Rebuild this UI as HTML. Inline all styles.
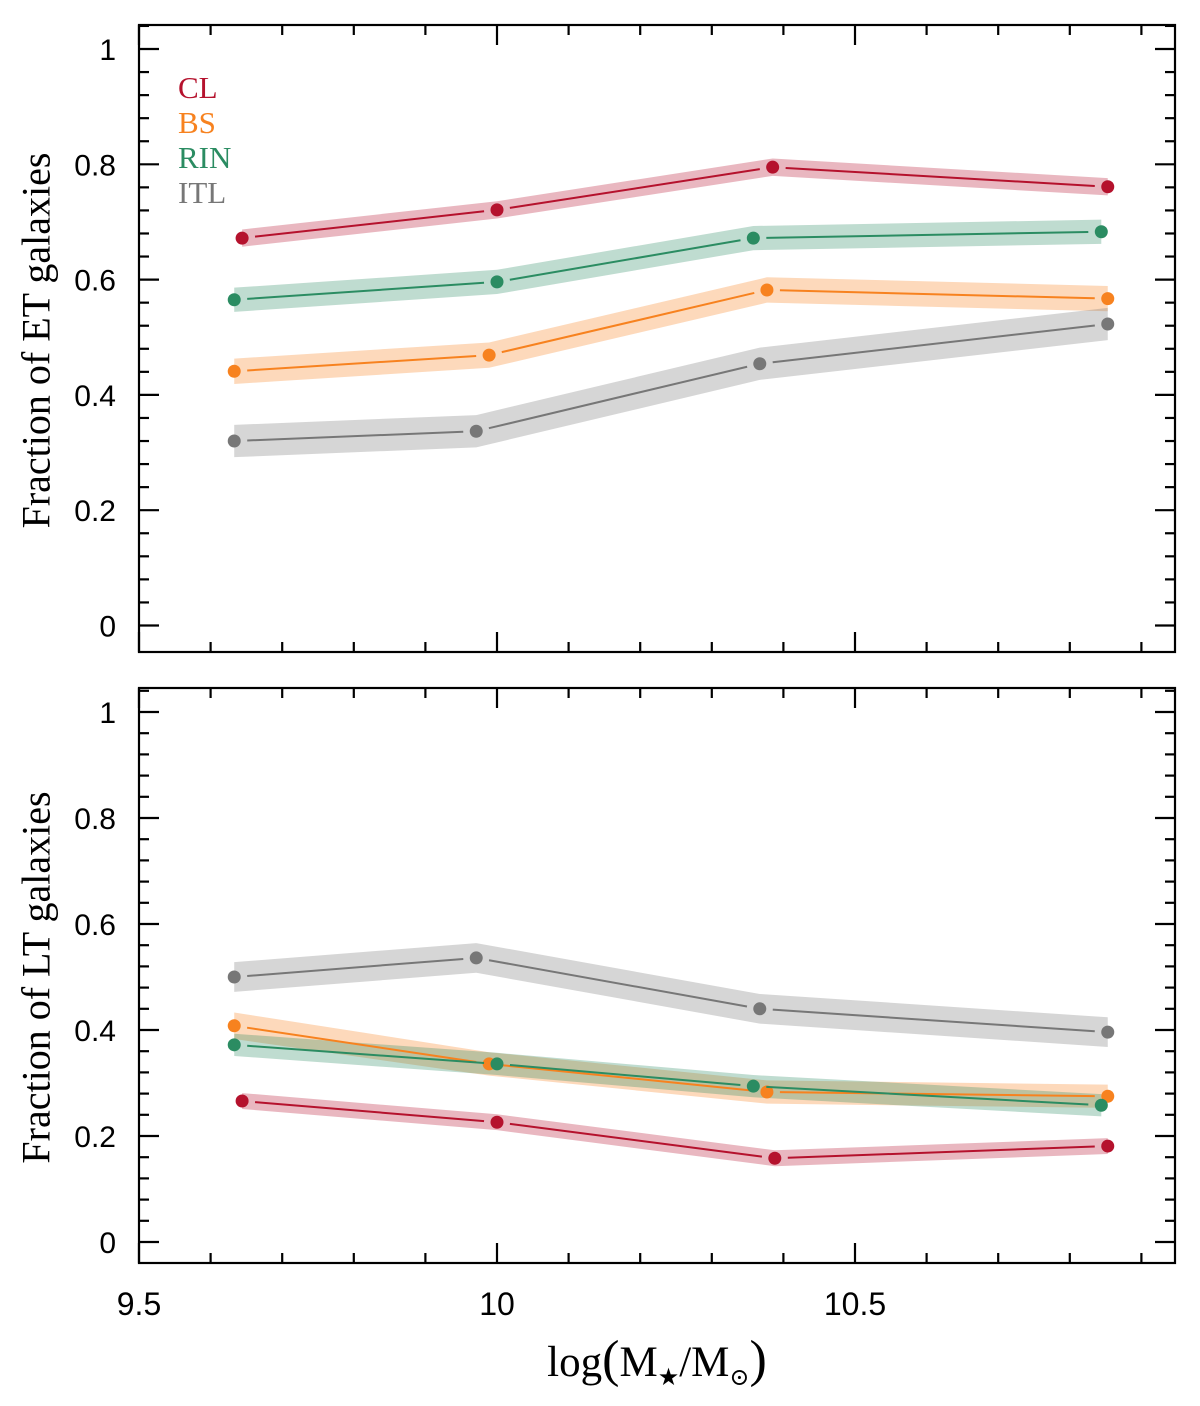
<!DOCTYPE html>
<html><head><meta charset="utf-8"><style>
body{margin:0;background:#fff;}
svg{display:block;}
</style></head><body>
<svg id="chart" width="1200" height="1406" xmlns="http://www.w3.org/2000/svg"></svg>
<script>
const seriesNames = ["CL","BS","RIN","ITL"];
const colors = {CL:"#b5122d",BS:"#f7821f",RIN:"#2b8c62",ITL:"#777777"};
const etX = {CL:[9.644,10.0,10.385,10.853],BS:[9.633,9.989,10.377,10.853],RIN:[9.633,10.0,10.358,10.844],ITL:[9.633,9.971,10.367,10.853]};
const etY = {CL:[0.672,0.721,0.795,0.761],BS:[0.441,0.469,0.582,0.567],RIN:[0.565,0.596,0.672,0.683],ITL:[0.320,0.337,0.454,0.523]};
const etErr = {CL:[0.015,0.015,0.015,0.015],BS:[0.022,0.022,0.022,0.022],RIN:[0.021,0.021,0.021,0.021],ITL:[0.028,0.028,0.028,0.028]};
const ltX = {CL:[9.644,10.0,10.388,10.853],BS:[9.633,9.989,10.377,10.853],RIN:[9.633,10.0,10.358,10.844],ITL:[9.633,9.971,10.367,10.853]};
const ltY = {CL:[0.266,0.226,0.158,0.181],BS:[0.408,0.336,0.283,0.275],RIN:[0.372,0.336,0.294,0.258],ITL:[0.500,0.536,0.440,0.396]};
const ltErr = {CL:[0.015,0.015,0.015,0.015],BS:[0.025,0.022,0.022,0.022],RIN:[0.021,0.021,0.021,0.021],ITL:[0.028,0.028,0.028,0.028]};
const xTickLabels = ["9.5","10","10.5"];
const xTickValues = [9.5,10,10.5];
const yTickLabels = ["0","0.2","0.4","0.6","0.8","1"];
const yTickValues = [0,0.2,0.4,0.6,0.8,1];

const NS="http://www.w3.org/2000/svg";
const svg=document.getElementById('chart');
function mk(tag,attrs,parent){const e=document.createElementNS(NS,tag);for(const k in attrs)e.setAttribute(k,attrs[k]);(parent||svg).appendChild(e);return e;}
const X0=139,X1=1175;
function xs(v){return X0+(v-9.5)*716;}

function panel(name,top,bottom,y0px,y1px,xv,yv,ev,ylabel,showX,legend){
  const g=mk('g',{});
  
  
  const ys=v=>y0px+(y1px-y0px)*v;
  seriesNames.forEach(s=>{
    const xsA=xv[s],ysA=yv[s],es=ev[s];
    let pts=[];
    for(let i=0;i<xsA.length;i++)pts.push(xs(xsA[i])+','+ys(ysA[i]+es[i]));
    for(let i=xsA.length-1;i>=0;i--)pts.push(xs(xsA[i])+','+ys(ysA[i]-es[i]));
    const p=mk('polygon',{points:pts.join(' '),fill:colors[s],'fill-opacity':0.3},g);
    
    
  });
  seriesNames.forEach(s=>{
    const xsA=xv[s],ysA=yv[s];
    for(let i=0;i<xsA.length-1;i++){
      const ax=xs(xsA[i]),ay=ys(ysA[i]),bx=xs(xsA[i+1]),by=ys(ysA[i+1]);
      const d=Math.hypot(bx-ax,by-ay),gap=13;
      const ux=(bx-ax)/d,uy=(by-ay)/d;
      const l=mk('line',{x1:ax+ux*gap,y1:ay+uy*gap,x2:bx-ux*gap,y2:by-uy*gap,stroke:colors[s],'stroke-width':2},g);
      
      
    }
    for(let i=0;i<xsA.length;i++){
      const c=mk('circle',{cx:xs(xsA[i]),cy:ys(ysA[i]),r:6.5,fill:colors[s]},g);
      
      
    }
  });
  const f=mk('rect',{x:X0,y:top,width:X1-X0,height:bottom-top,fill:'none',stroke:'#000','stroke-width':2.2},g);
  
  
  for(let k=0;k<=14;k++){
    const v=9.5+k*0.1; const x=xs(v); if(x>X1)break;
    const major=(k%5===0); const L=major?20:10;
    mk('line',{x1:x,y1:bottom,x2:x,y2:bottom-L,stroke:'#000','stroke-width':2.2},g);
    mk('line',{x1:x,y1:top,x2:x,y2:top+L,stroke:'#000','stroke-width':2.2},g);
  }
  for(let k=0;k<=26;k++){
    const v=k*0.04; const y=ys(v); if(y<top)break;
    const major=(k%5===0); const L=major?20:10;
    mk('line',{x1:X0,y1:y,x2:X0+L,y2:y,stroke:'#000','stroke-width':2.2},g);
    mk('line',{x1:X1,y1:y,x2:X1-L,y2:y,stroke:'#000','stroke-width':2.2},g);
  }
  yTickValues.forEach((v,i)=>{
    const t=mk('text',{x:116,y:ys(v)+11,'text-anchor':'end','font-family':'Liberation Sans, sans-serif','font-size':30},g);
    t.textContent=yTickLabels[i];
    
    
  });
  if(showX){
    xTickValues.forEach((v,i)=>{
      const t=mk('text',{x:xs(v),y:bottom+52,'text-anchor':'middle','font-family':'Liberation Sans, sans-serif','font-size':32},g);
      t.textContent=xTickLabels[i];
      
      
    });
  }
  const yl=mk('text',{x:0,y:0,transform:'translate(46,'+((top+bottom)/2+2)+') rotate(-90)','text-anchor':'middle','font-family':'Liberation Serif, serif','font-size':40},g);
  yl.setAttribute('transform','translate(36,'+((top+bottom)/2+2)+') rotate(-90)');
  yl.setAttribute('dominant-baseline','central');
  yl.textContent=ylabel;
  
  
  if(legend){
    seriesNames.forEach((s,i)=>{
      const t=mk('text',{x:178,y:98+i*35,'font-family':'Liberation Serif, serif','font-size':31,fill:colors[s]},g);
      t.textContent=s;
      
      
    });
  }
}
panel('top-panel',25,652,625.5,49,etX,etY,etErr,'Fraction of ET galaxies',false,true);
panel('bottom-panel',688,1263,1242,712,ltX,ltY,ltErr,'Fraction of LT galaxies',true,false);
const xt=mk('text',{x:657,y:1376,'text-anchor':'middle','font-family':'Liberation Serif, "DejaVu Serif", serif','font-size':43});
xt.innerHTML='log<tspan font-size="52">(</tspan>M<tspan font-size="24" dy="9">★</tspan><tspan dy="-9">/M</tspan><tspan font-size="24" dy="9">⊙</tspan><tspan font-size="52" dy="-9">)</tspan>';


</script>
</body></html>
